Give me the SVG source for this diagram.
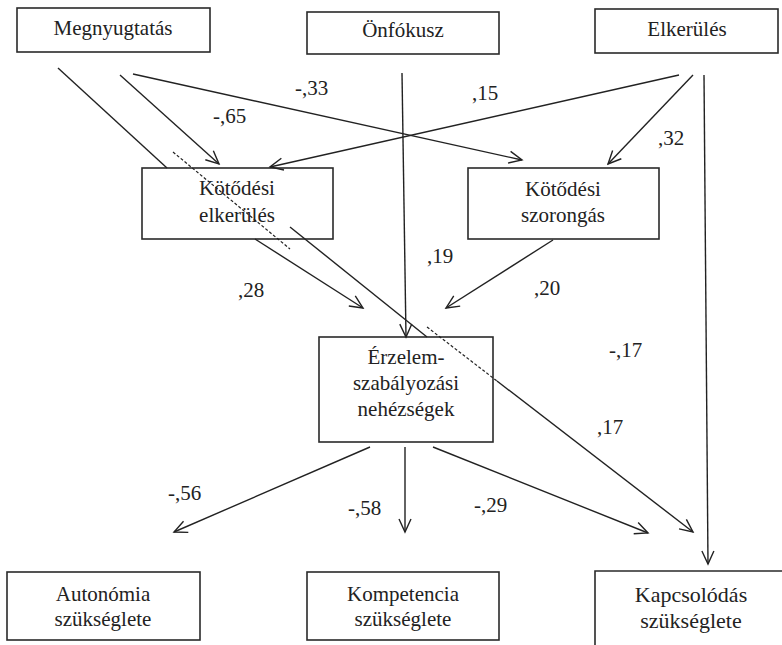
<svg xmlns="http://www.w3.org/2000/svg" width="782" height="645" viewBox="0 0 782 645">
<style>
.box{fill:none;stroke:#2a2a2a;stroke-width:1.6}
.t{font-size:21px;fill:#222;text-anchor:middle}
.l{font-size:21px;fill:#222}
.c{fill:none;stroke:#222;stroke-width:1.4}
.d{fill:none;stroke:#222;stroke-width:1.2;stroke-dasharray:3 2}
</style>
<defs>
<marker id="ah" viewBox="-14 -8 16 16" refX="0" refY="0" markerWidth="16" markerHeight="16" markerUnits="userSpaceOnUse" orient="auto">
<path d="M-13,-6 L0,0 L-13,6" fill="none" stroke="#222" stroke-width="1.4"/>
</marker>
</defs>
<rect width="782" height="645" fill="#fff"/>
<g font-family="'Liberation Serif', 'DejaVu Serif', 'Times New Roman', serif">
<g id="megnyugtatas"><rect class="box" x="17" y="8" width="193" height="44"/><text class="t" x="113" y="35">Megnyugtatás</text></g>
<g id="onfokusz"><rect class="box" x="307" y="12" width="192" height="42"/><text class="t" x="403" y="37">Önfókusz</text></g>
<g id="elkerules"><rect class="box" x="595" y="9" width="183" height="44"/><text class="t" x="687" y="36">Elkerülés</text></g>
<g id="kotodesi-elkerules"><rect class="box" x="142" y="168" width="191" height="71"/><text class="t" x="237" y="195">Kötődési</text><text class="t" x="237" y="222">elkerülés</text></g>
<g id="kotodesi-szorongas"><rect class="box" x="468" y="168" width="191" height="71"/><text class="t" x="563" y="196">Kötődési</text><text class="t" x="563" y="222">szorongás</text></g>
<g id="erzelem"><rect class="box" x="319" y="337" width="174" height="105"/><text class="t" x="406" y="364">Érzelem-</text><text class="t" x="406" y="390">szabályozási</text><text class="t" x="406" y="416">nehézségek</text></g>
<g id="autonomia"><rect class="box" x="7" y="572" width="193" height="68"/><text class="t" x="103" y="601">Autonómia</text><text class="t" x="103" y="626">szükséglete</text></g>
<g id="kompetencia"><rect class="box" x="307" y="572" width="192" height="68"/><text class="t" x="403" y="601">Kompetencia</text><text class="t" x="403" y="626">szükséglete</text></g>
<g id="kapcsolodas"><path class="box" d="M595,650 L595,571 L790,571"/><text class="t" x="691" y="602" style="font-size:22px">Kapcsolódás</text><text class="t" x="691" y="628" style="font-size:22px">szükséglete</text></g>
<g id="connectors">
<path class="c" d="M58,68 L167,168"/>
<path class="c" d="M120,75 L219,164" marker-end="url(#ah)"/>
<path class="c" d="M133,74 L522,160" marker-end="url(#ah)"/>
<path class="c" d="M679,75 L270,167" marker-end="url(#ah)"/>
<path class="c" d="M693,75 L608,164" marker-end="url(#ah)"/>
<path class="c" d="M402,73 L406,337" marker-end="url(#ah)"/>
<path class="c" d="M704,75 L708,564" marker-end="url(#ah)"/>
<path class="c" d="M255,239 L363,308" marker-end="url(#ah)"/>
<path class="c" d="M553,240 L446,308" marker-end="url(#ah)"/>
<path class="c" d="M290,227 L427,337"/>
<path class="d" d="M427,327 L497,381"/>
<path class="c" d="M497,381 L693,532" marker-end="url(#ah)"/>
<path class="d" d="M173,152 L290,249"/>
<path class="c" d="M370,447 L174,532" marker-end="url(#ah)"/>
<path class="c" d="M405,447 L405,532" marker-end="url(#ah)"/>
<path class="c" d="M433,447 L648,533" marker-end="url(#ah)"/>
</g>
<g id="labels">
<text class="l" x="213" y="123">-,65</text>
<text class="l" x="295" y="95">-,33</text>
<text class="l" x="472" y="100">,15</text>
<text class="l" x="658" y="145">,32</text>
<text class="l" x="427" y="263">,19</text>
<text class="l" x="238" y="297">,28</text>
<text class="l" x="534" y="295">,20</text>
<text class="l" x="609" y="357">-,17</text>
<text class="l" x="597" y="434">,17</text>
<text class="l" x="168" y="500">-,56</text>
<text class="l" x="348" y="515">-,58</text>
<text class="l" x="474" y="512">-,29</text>
</g>
</g>
</svg>
